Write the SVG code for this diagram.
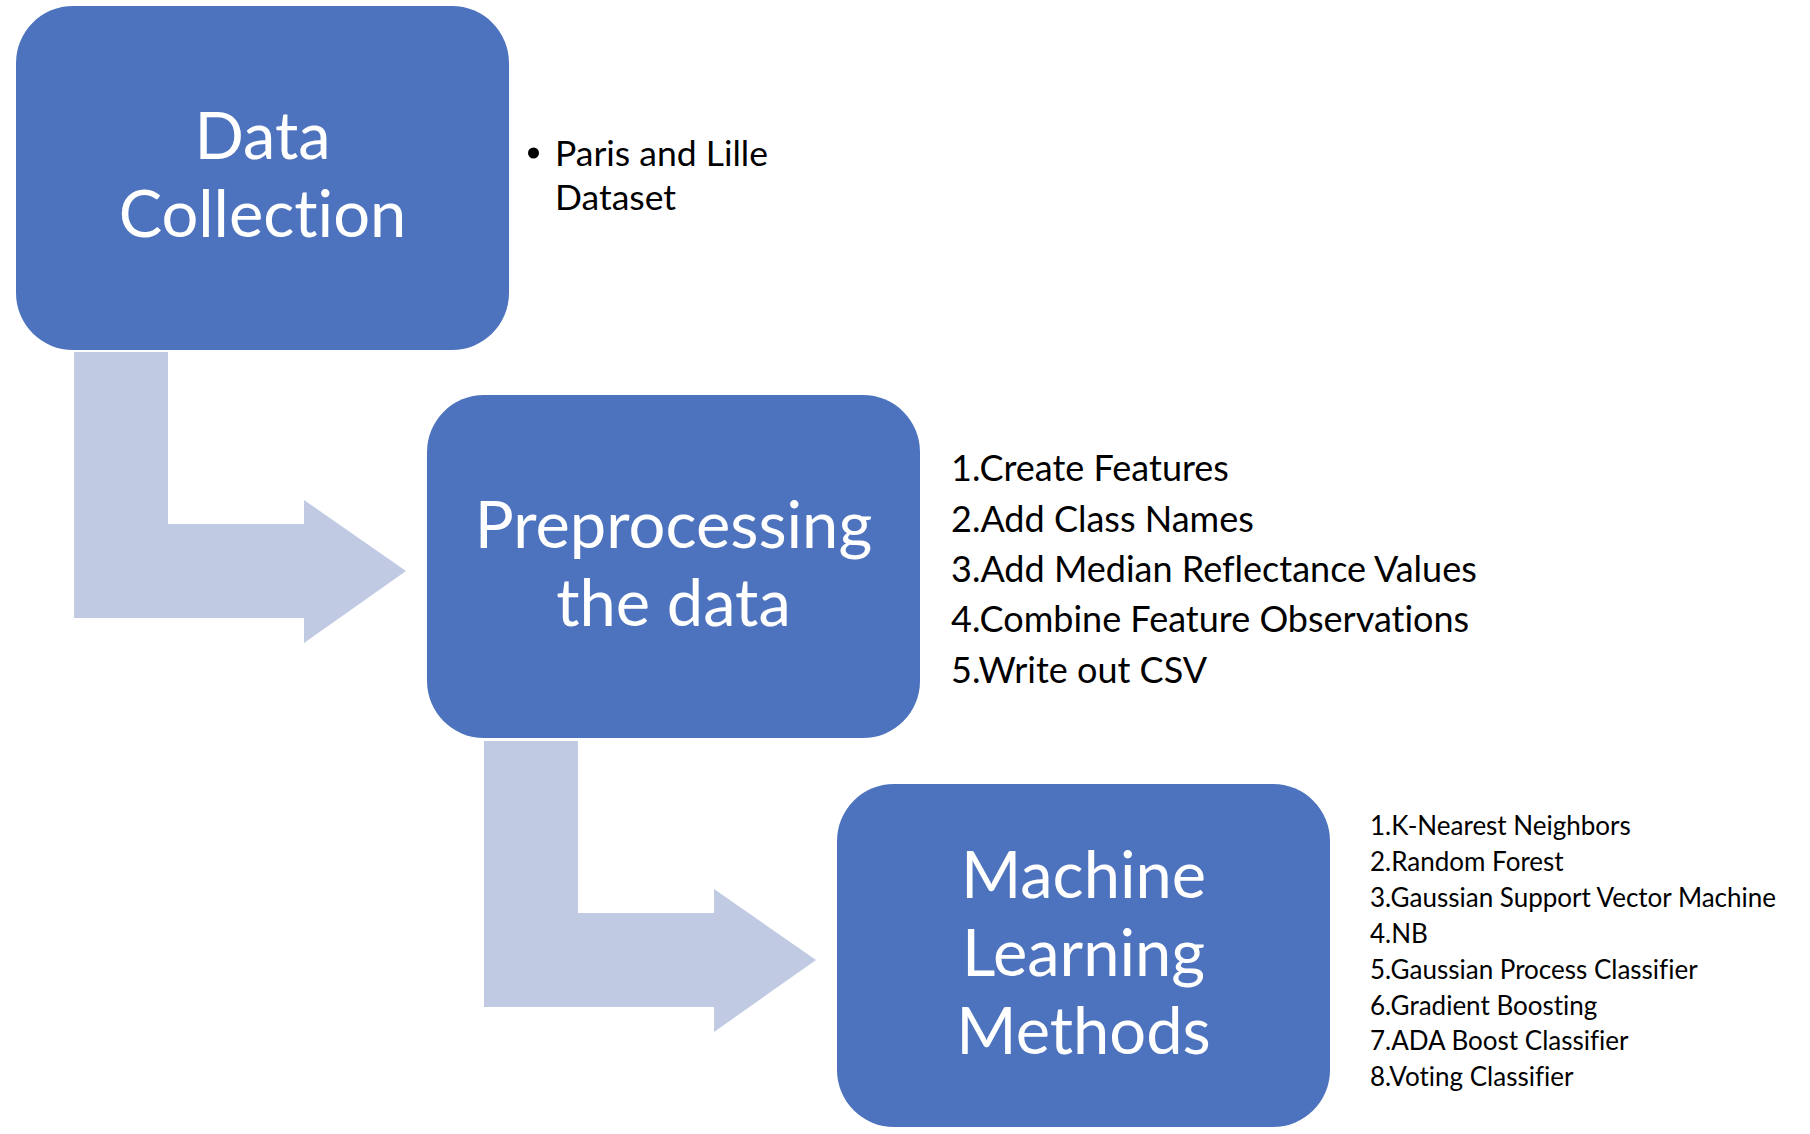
<svg xmlns="http://www.w3.org/2000/svg" width="1810" height="1134" viewBox="0 0 1810 1134">
  <style>
    .box { fill: #4E73BE; }
    .arrow { fill: #C1CAE3; }
    text { font-variant-ligatures: none; font-feature-settings: "liga" 0, "clig" 0; }
    .title { font-family: Lato, "Open Sans", "Liberation Sans", sans-serif; font-size: 65px; fill: #FFFFFF; text-anchor: middle; }
    .list { font-family: Lato, "Open Sans", "Liberation Sans", sans-serif; fill: #000000; }
    .l1 { font-size: 35.5px; }
    .l2 { font-size: 36px; }
    .l3 { font-size: 26px; }
  </style>
  <rect width="1810" height="1134" fill="#FFFFFF"/>
  <g id="connectors">
    <path class="arrow" d="M74,352 H168 V524 H304 V500 L406,571 L304,643 V618 H74 Z"/>
    <path class="arrow" d="M484,741 H578 V913 H714 V889 L816,960 L714,1032 V1007 H484 Z"/>
  </g>
  <g id="node-data-collection">
    <rect class="box" x="16" y="6" width="493" height="344" rx="57" ry="57"/>
    <text class="title" x="262.5" y="158.5">Data</text>
    <text class="title" x="262.5" y="237">Collection</text>
  </g>
  <g id="node-preprocessing">
    <rect class="box" x="427" y="395" width="493" height="343" rx="57" ry="57"/>
    <text class="title" x="673.5" y="548">Preprocessing</text>
    <text class="title" x="673.5" y="626">the data</text>
  </g>
  <g id="node-ml-methods">
    <rect class="box" x="837" y="784" width="493" height="343" rx="57" ry="57"/>
    <text class="title" x="1083.5" y="898">Machine</text>
    <text class="title" x="1083.5" y="976">Learning</text>
    <text class="title" x="1083.5" y="1054">Methods</text>
  </g>
  <g id="notes-data-collection">
    <circle cx="533.5" cy="153" r="5.5" fill="#000000"/>
    <text class="list l1" x="555" y="166">Paris and Lille</text>
    <text class="list l1" x="555" y="210">Dataset</text>
  </g>
  <g id="notes-preprocessing">
    <text class="list l2" x="951" y="481">1.Create Features</text>
    <text class="list l2" x="951" y="531.5">2.Add Class Names</text>
    <text class="list l2" x="951" y="582">3.Add Median Reflectance Values</text>
    <text class="list l2" x="951" y="632">4.Combine Feature Observations</text>
    <text class="list l2" x="951" y="682.5">5.Write out CSV</text>
  </g>
  <g id="notes-ml-methods">
    <text class="list l3" x="1370" y="835">1.K-Nearest Neighbors</text>
    <text class="list l3" x="1370" y="871">2.Random Forest</text>
    <text class="list l3" x="1370" y="907">3.Gaussian Support Vector Machine</text>
    <text class="list l3" x="1370" y="943">4.NB</text>
    <text class="list l3" x="1370" y="978.5">5.Gaussian Process Classifier</text>
    <text class="list l3" x="1370" y="1014.5">6.Gradient Boosting</text>
    <text class="list l3" x="1370" y="1050">7.ADA Boost Classifier</text>
    <text class="list l3" x="1370" y="1086">8.Voting Classifier</text>
  </g>
</svg>
